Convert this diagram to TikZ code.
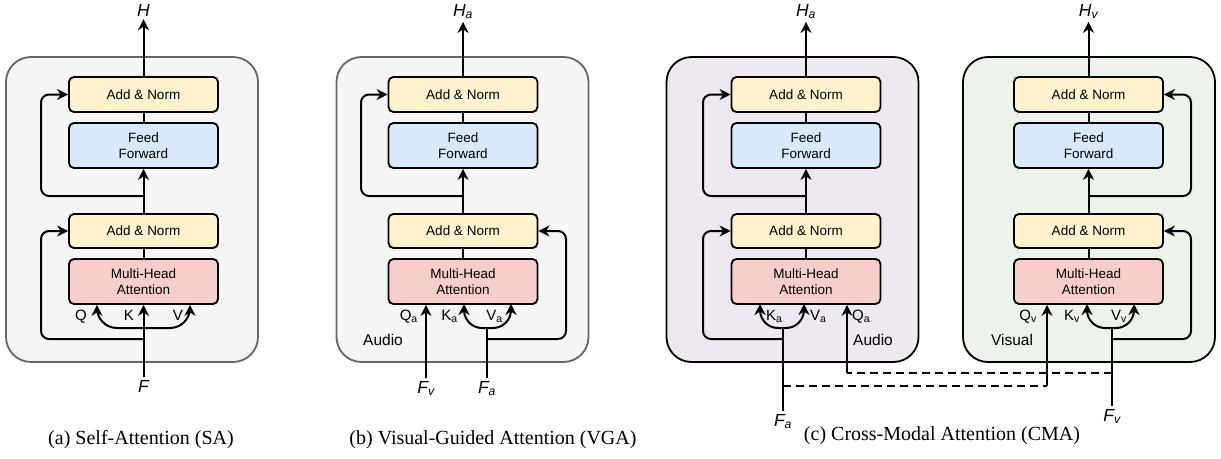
\documentclass[tikz,border=0pt]{standalone}
\usepackage{fontspec}
\setmainfont{Liberation Serif}
\setsansfont{Liberation Sans}
\usepackage{tikz}
\usetikzlibrary{arrows.meta,calc}

\definecolor{normfill}{HTML}{FFF2CC}
\definecolor{ffnfill}{HTML}{DAE8FC}
\definecolor{attfill}{HTML}{F8CECC}
\definecolor{greyfill}{HTML}{F5F5F5}
\definecolor{greyline}{HTML}{666666}
\definecolor{audiofill}{HTML}{EEE8F1}
\definecolor{visualfill}{HTML}{EDF3EB}

\begin{document}
\begin{tikzpicture}[x=1pt, y=-1pt,
    box/.style={draw, line width=1.8pt, rounded corners=5pt, minimum width=149pt, inner sep=0pt, align=center, font=\sffamily\fontsize{13.5}{16}\selectfont},
    normbox/.style={box, fill=normfill, minimum height=35pt},
    ffnbox/.style={box, fill=ffnfill, minimum height=45pt},
    attbox/.style={box, fill=attfill, minimum height=45pt},
    panel/.style={draw, line width=1.8pt, rounded corners=25pt, minimum width=252pt, minimum height=305pt},
    wire/.style={line width=2pt},
    arr/.style={wire, -{Stealth[length=11pt, width=11pt, inset=3.5pt]}},
    dashwire/.style={wire, dash pattern=on 8pt off 5pt},
    qkv/.style={inner sep=1pt, font=\sffamily\fontsize{15}{17}\selectfont},
    iolbl/.style={inner sep=3pt, font=\sffamily\itshape\fontsize{17.5}{20}\selectfont},
    tag/.style={font=\sffamily\fontsize{15.5}{18}\selectfont},
    caption/.style={font=\fontsize{20}{24}\selectfont}
]
    \useasboundingbox (0,0) rectangle (1221,458);

    % Panels
    \node[panel, fill=greyfill, draw=greyline] (pa) at (132,209.5) {};
    \node[panel, fill=greyfill, draw=greyline] (pb) at (462.5,209.5) {};
    \node[panel, fill=audiofill] (pc) at (792.5,209.5) {};
    \node[panel, fill=visualfill] (pd) at (1089,209.5) {};

    % Encoder stacks
    \foreach \i/\cx/\out in {a/143.5/{H}, b/463/{H\textsubscript{a}}, c/806/{H\textsubscript{a}}, d/1088.5/{H\textsubscript{v}}} {
        \node[normbox] (an2\i) at (\cx,94.5) {Add \& Norm};
        \node[ffnbox] (ff\i) at (\cx,145.5) {Feed\\Forward};
        \node[normbox, minimum height=34pt] (an1\i) at (\cx,231) {Add \& Norm};
        \node[attbox] (mha\i) at (\cx,281.5) {Multi-Head\\Attention};
        \draw[wire] (mha\i) -- (an1\i);
        \draw[arr] (an1\i) -- (ff\i);
        \draw[wire] (ff\i) -- (an2\i);
        \node[iolbl, anchor=base] (out\i) at (\cx,16) {\out};
        \draw[arr] (an2\i) -- (out\i);
    }

    % (a) Self-Attention
    \node[iolbl, anchor=base] (fa) at (143.5,392) {F};
    \coordinate (cva) at (143.5,328);
    \coordinate (ra) at (143.5,339);
    \draw[arr] (fa) -- (mhaa.south);
    \draw[arr, rounded corners=20pt] (cva) -| ($(mhaa.south)+(-46.5,0)$);
    \draw[arr, rounded corners=20pt] (cva) -| ($(mhaa.south)+(46.5,0)$);
    \draw[arr, rounded corners=8pt] (ra) -| (41,231) -- (an1a.west);
    \draw[arr, rounded corners=8pt] (143.5,196) -| (41,94.5) -- (an2a.west);
    \node[qkv, anchor=base east] (qa) at (88,320) {Q};
    \node[qkv, anchor=base east] (ka) at (135,320) {K};
    \node[qkv, anchor=base east] (va) at (184,320) {V};

    % (b) Visual-Guided Attention
    \node[iolbl, anchor=base] (fvb) at (426,393) {F\textsubscript{v}};
    \node[iolbl, anchor=base] (fab) at (487,393) {F\textsubscript{a}};
    \coordinate (cvb) at (487,328);
    \coordinate (rb) at (487,339);
    \draw[arr] (fvb) -- (fvb |- mhab.south);
    \draw[wire] (fab) -- (cvb);
    \draw[arr, rounded corners=18pt] (cvb) -| (464,304);
    \draw[arr, rounded corners=18pt] (cvb) -| (511,304);
    \draw[arr, rounded corners=8pt] (rb) -| (566,231) -- (an1b.east);
    \draw[arr, rounded corners=8pt] (463,196) -| (361,94.5) -- (an2b.west);
    \node[qkv, anchor=base east] (qb) at (419,320) {Q\textsubscript{a}};
    \node[qkv, anchor=base east] (kb) at (459,320) {K\textsubscript{a}};
    \node[qkv, anchor=base east] (vb) at (504,320) {V\textsubscript{a}};
    \node[tag] (audiob) at (383,340) {Audio};

    % (c) Cross-Modal Attention, audio side
    \node[iolbl, anchor=base] (fac) at (783,426) {F\textsubscript{a}};
    \coordinate (cvc) at (783,328);
    \coordinate (rc) at (783,339);
    \draw[wire] (fac) -- (cvc);
    \draw[arr, rounded corners=18pt] (cvc) -| (760,304);
    \draw[arr, rounded corners=18pt] (cvc) -| (804,304);
    \draw[arr, rounded corners=8pt] (rc) -| (703,231) -- (an1c.west);
    \draw[arr, rounded corners=8pt] (806,196) -| (703,94.5) -- (an2c.west);
    \node[qkv, anchor=base west] (kc) at (765,320) {K\textsubscript{a}};
    \node[qkv, anchor=base west] (vc) at (809,320) {V\textsubscript{a}};
    \node[qkv, anchor=base west] (qc) at (851,320) {Q\textsubscript{a}};
    \node[tag] (audioc) at (873,340) {Audio};

    % (c) Cross-Modal Attention, visual side
    \node[iolbl, anchor=base] (fvd) at (1112,421) {F\textsubscript{v}};
    \coordinate (cvd) at (1112,328);
    \coordinate (rd) at (1112,339);
    \draw[wire] (fvd) -- (cvd);
    \draw[arr, rounded corners=18pt] (cvd) -| (1087,304);
    \draw[arr, rounded corners=18pt] (cvd) -| (1134,304);
    \draw[arr, rounded corners=8pt] (rd) -| (1191,231) -- (an1d.east);
    \draw[arr, rounded corners=8pt] (1088.5,196) -| (1191,94.5) -- (an2d.east);
    \node[qkv, anchor=base east] (qd) at (1038,320) {Q\textsubscript{v}};
    \node[qkv, anchor=base east] (kd) at (1081,320) {K\textsubscript{v}};
    \node[qkv, anchor=base east] (vd) at (1128,320) {V\textsubscript{v}};
    \node[tag] (visuald) at (1012,340) {Visual};

    % Cross links
    \coordinate (fvtap) at (1112,373);
    \coordinate (qaturn) at (847,373);
    \coordinate (fatap) at (783,386);
    \coordinate (qvturn) at (1047,386);
    \draw[dashwire] (fvtap) -- (qaturn);
    \draw[dashwire] (fatap) -- (qvturn);
    \draw[arr] (qaturn) -- (qaturn |- mhac.south);
    \draw[arr] (qvturn) -- (qvturn |- mhad.south);

    % Captions
    \node[caption] (capa) at (141,440) {(a) Self-Attention (SA)};
    \node[caption] (capb) at (493,440) {(b) Visual-Guided Attention (VGA)};
    \node[caption] (capc) at (942,436) {(c) Cross-Modal Attention (CMA)};
\end{tikzpicture}
\end{document}
